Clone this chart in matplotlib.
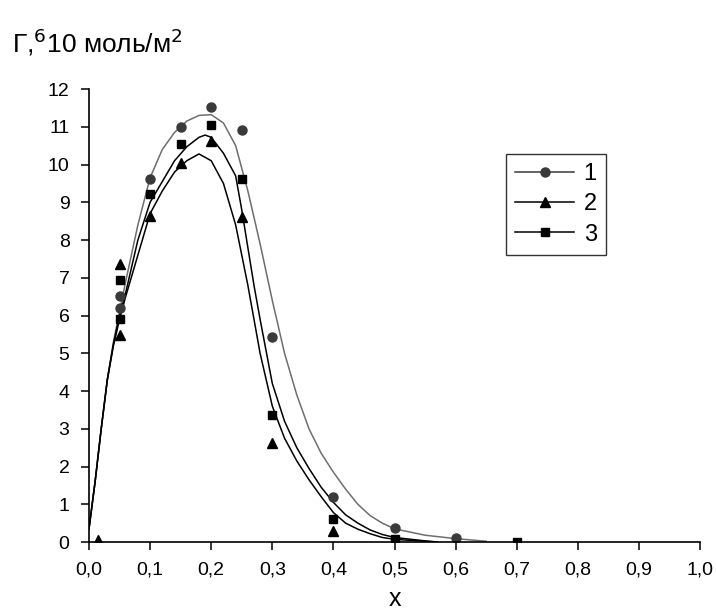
import matplotlib
matplotlib.use("Agg")
import matplotlib.pyplot as plt

plt.rcParams['font.family'] = ['Liberation Sans', 'DejaVu Sans']

# measured points
x1 = [0.05, 0.05, 0.10, 0.15, 0.20, 0.25, 0.30, 0.40, 0.50, 0.60]
y1 = [6.52, 6.21, 9.62, 11.0, 11.53, 10.91, 5.42, 1.19, 0.37, 0.10]
x2 = [0.015, 0.05, 0.05, 0.10, 0.15, 0.20, 0.25, 0.30, 0.40, 0.50]
y2 = [0.05, 7.36, 5.48, 8.64, 10.03, 10.63, 8.62, 2.62, 0.30, 0.03]
x3 = [0.05, 0.05, 0.10, 0.15, 0.20, 0.25, 0.30, 0.40, 0.50, 0.70]
y3 = [6.94, 5.90, 9.22, 10.54, 11.05, 9.61, 3.36, 0.60, 0.08, 0.01]

# fitted curves
cx1 = [0.0, 0.01, 0.02, 0.03, 0.04, 0.05, 0.06, 0.08, 0.10, 0.12, 0.14, 0.16,
       0.18, 0.20, 0.22, 0.24, 0.26, 0.28, 0.30, 0.32, 0.34, 0.36, 0.38, 0.40,
       0.42, 0.44, 0.46, 0.48, 0.50, 0.55, 0.60, 0.65]
cy1 = [0.35, 1.6, 3.0, 4.3, 5.3, 6.1, 6.9, 8.4, 9.65, 10.4, 10.85, 11.15,
       11.3, 11.32, 11.1, 10.5, 9.3, 7.9, 6.4, 5.0, 3.9, 3.0, 2.35, 1.85,
       1.4, 1.0, 0.7, 0.5, 0.35, 0.18, 0.09, 0.02]
cx2 = [0.0, 0.01, 0.02, 0.03, 0.04, 0.05, 0.06, 0.08, 0.10, 0.12, 0.14, 0.16,
       0.18, 0.20, 0.22, 0.24, 0.26, 0.28, 0.30, 0.32, 0.34, 0.36, 0.38, 0.40,
       0.42, 0.44, 0.46, 0.48, 0.50, 0.55, 0.57]
cy2 = [0.35, 1.6, 3.0, 4.3, 5.2, 5.9, 6.5, 7.6, 8.7, 9.3, 9.8, 10.1,
       10.28, 10.1, 9.5, 8.4, 6.8, 5.0, 3.6, 2.75, 2.15, 1.65, 1.2, 0.78,
       0.5, 0.34, 0.22, 0.12, 0.07, 0.02, 0.0]
cx3 = [0.0, 0.01, 0.02, 0.03, 0.04, 0.05, 0.06, 0.08, 0.10, 0.12, 0.14, 0.16,
       0.18, 0.19, 0.20, 0.22, 0.24, 0.25, 0.26, 0.27, 0.28, 0.30, 0.32, 0.34,
       0.36, 0.38, 0.40, 0.42, 0.44, 0.46, 0.48, 0.50, 0.55, 0.57]
cy3 = [0.35, 1.6, 3.0, 4.3, 5.25, 6.0, 6.6, 8.0, 9.0, 9.55, 10.1, 10.47,
       10.72, 10.78, 10.72, 10.3, 9.7, 8.8, 7.8, 6.8, 5.9, 4.2, 3.2, 2.5,
       1.95, 1.45, 1.05, 0.72, 0.5, 0.32, 0.2, 0.12, 0.03, 0.0]

labels = ['1', '2', '3']
xticks = [0.0, 0.1, 0.2, 0.3, 0.4, 0.5, 0.6, 0.7, 0.8, 0.9, 1.0]
xticklabels = ['0,0', '0,1', '0,2', '0,3', '0,4', '0,5', '0,6', '0,7', '0,8', '0,9', '1,0']
yticks = list(range(0, 13))

fig = plt.figure(figsize=(7.16, 6.13), dpi=100)
ax = fig.add_axes([0.1243, 0.1158, 0.8534, 0.739])

ax.plot(cx1, cy1, color='#6e6e6e', lw=1.1)
ax.plot(cx2, cy2, color='black', lw=1.1)
ax.plot(cx3, cy3, color='black', lw=1.1)

ax.plot(x1, y1, 'o', color='#3a3a3a', ms=6.5, ls='none')
ax.plot(x2, y2, '^', color='black', ms=7, ls='none')
ax.plot(x3, y3, 's', color='black', ms=5.5, ls='none')

# legend handles
h1, = ax.plot([], [], '-o', color='#3a3a3a', ms=6.5, lw=1.1)
h2, = ax.plot([], [], '-^', color='black', ms=7, lw=1.1)
h3, = ax.plot([], [], '-s', color='black', ms=5.5, lw=1.1)
leg = ax.legend([h1, h2, h3], labels, loc='upper left',
                bbox_to_anchor=(0.682, 0.857), borderaxespad=0,
                frameon=True, fancybox=False, edgecolor='black',
                fontsize=17, handlelength=2.5, handletextpad=0.4,
                labelspacing=0.35, borderpad=0.4)
leg.get_frame().set_linewidth(1.0)

ax.set_xlim(0, 1.0)
ax.set_ylim(0, 12)
ax.set_xticks(xticks)
ax.set_xticklabels(xticklabels)
ax.set_yticks(yticks)
ax.tick_params(direction='out', length=6, width=1.1, labelsize=14, pad=8)
for s in ['top', 'right']:
    ax.spines[s].set_visible(False)
for s in ['left', 'bottom']:
    ax.spines[s].set_linewidth(1.2)

ax.set_xlabel('x', fontsize=18, labelpad=6)
fig.text(0.017, 0.915, 'Г,$^{6}$10 моль/м$^{2}$', fontsize=19, ha='left', va='baseline')

fig.savefig('out.png', dpi=100)
